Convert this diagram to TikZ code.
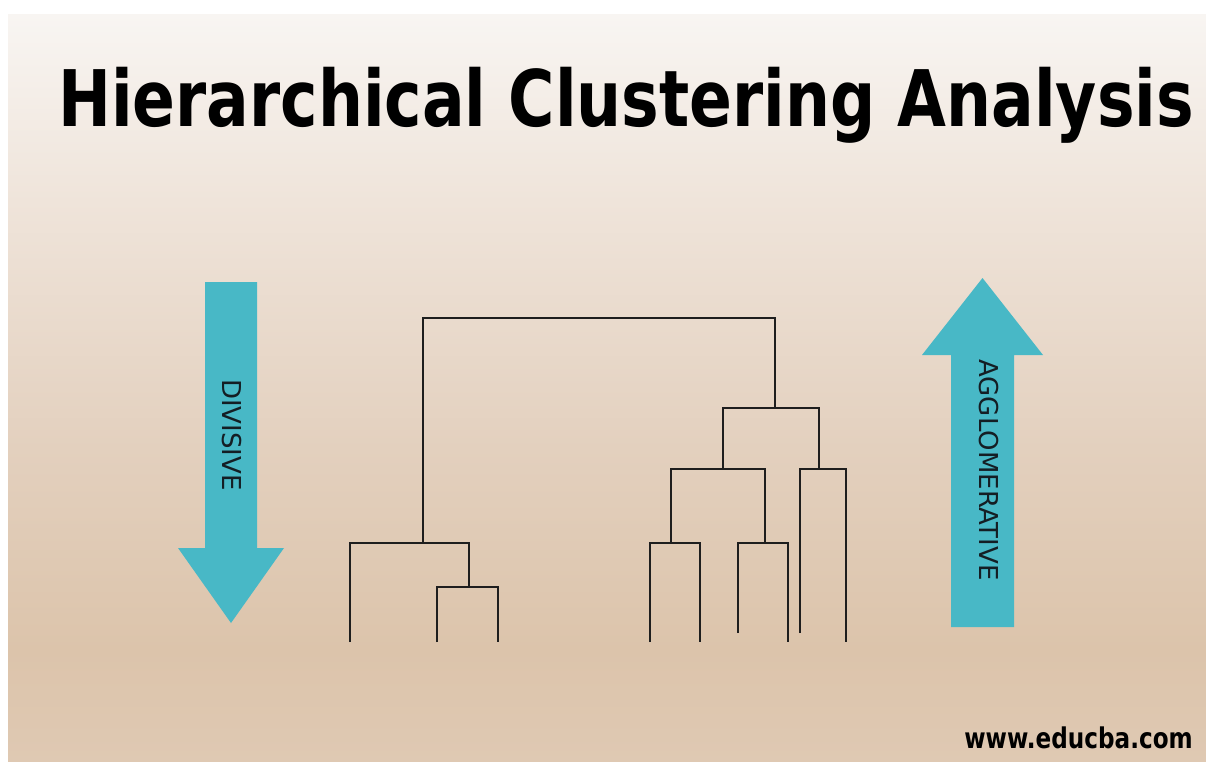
\documentclass[tikz,border=0pt]{standalone}
\usepackage{fontspec}
\setmainfont{DejaVu Sans}
\newfontfamily\headfont[FakeStretch=0.81]{DejaVu Sans}
\definecolor{hcteal}{HTML}{48B8C6}
\definecolor{hcink}{HTML}{1E1E1E}
\definecolor{hclabel}{HTML}{141E24}
\definecolor{paneltop}{HTML}{F8F5F2}
\definecolor{panelhigh}{HTML}{EFE4DA}
\definecolor{panelmid}{HTML}{E3D0BE}
\definecolor{panellow}{HTML}{DCC4AB}
\definecolor{panelfoot}{HTML}{DFC9B3}
% only 25bp..75bp of a shading ends up inside the filled path
\pgfdeclareverticalshading{panelfade}{100bp}{color(0bp)=(panelfoot); color(25bp)=(panelfoot);
  color(32.5bp)=(panellow); color(46bp)=(panelmid); color(62.5bp)=(panelhigh);
  color(75bp)=(paneltop); color(100bp)=(paneltop)}
\tikzset{
  link/.style={draw=hcink, line width=1.7pt},
  flow/.style={fill=hcteal},
  flowlabel/.style={rotate=-90, text=hclabel, inner sep=0pt,
                    font=\fontsize{18.5}{20}\selectfont},
  headline/.style={inner sep=0pt, text=black,
                   font=\headfont\bfseries\fontsize{55.5}{60}\selectfont},
  sitemark/.style={inner sep=0pt, text=black,
                   font=\headfont\bfseries\fontsize{20.3}{22}\selectfont}}

\begin{document}
\begin{tikzpicture}[x=0.025cm, y=-0.025cm]
  \useasboundingbox (0,0) rectangle (1206,762);
  \fill[white] (0,0) rectangle (1206,762);
  \shade[shading=panelfade] (8,15) rectangle (1206,762);

  \node[headline, anchor=base] (heading) at (626,127) {Hierarchical Clustering Analysis};

  % top-down and bottom-up arrows
  \fill[flow] (205,282) -- (257,282) -- (257,548) -- (284,548) -- (231,623)
              -- (178,548) -- (205,548) -- cycle;
  \fill[flow] (951,627) -- (1014,627) -- (1014,355) -- (1043,355) -- (982.5,278)
              -- (922,355) -- (951,355) -- cycle;
  \node[flowlabel] (divisive) at (232,435) {DIVISIVE};
  \node[flowlabel] (agglo) at (989,470) {AGGLOMERATIVE};

  % leaves
  \coordinate (a) at (350,642);
  \coordinate (b) at (437,642);
  \coordinate (c) at (498,642);
  \coordinate (d) at (650,642);
  \coordinate (e) at (700,642);
  \coordinate (f) at (738,633);
  \coordinate (g) at (788,642);
  \coordinate (h) at (800,633);
  \coordinate (i) at (846,642);
  % merges
  \coordinate (bc) at (469,587);
  \coordinate (abc) at (423,543);
  \coordinate (de) at (671,543);
  \coordinate (fg) at (765,543);
  \coordinate (defg) at (723,469);
  \coordinate (hi) at (819,469);
  \coordinate (dtoi) at (775,408);
  \coordinate (root) at (606,318);

  \draw[link] (b) |- (bc) -| (c);
  \draw[link] (a) |- (abc) -| (bc);
  \draw[link] (d) |- (de) -| (e);
  \draw[link] (f) |- (fg) -| (g);
  \draw[link] (de) |- (defg) -| (fg);
  \draw[link] (h) |- (hi) -| (i);
  \draw[link] (defg) |- (dtoi) -| (hi);
  \draw[link] (abc) |- (root) -| (dtoi);

  \node[sitemark, anchor=base east] (site) at (1193,748) {www.educba.com};
\end{tikzpicture}
\end{document}
